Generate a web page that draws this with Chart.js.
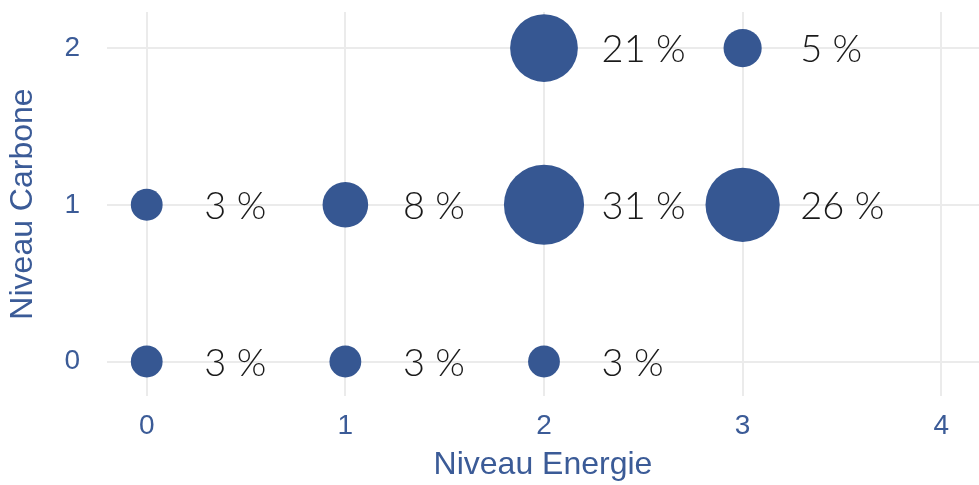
<!DOCTYPE html>
<html>
<head>
<meta charset="utf-8">
<script src="https://cdn.jsdelivr.net/npm/chart.js@4"></script>
<style>
  html, body { margin: 0; padding: 0; background: #fff; }
  #wrap { width: 979px; height: 485px; }
</style>
</head>
<body>
<div id="wrap"><canvas id="chart"></canvas></div>
<script>
// Niveau Energie / Niveau Carbone / share of cases
const energie = [0, 0, 1, 1, 2, 2, 2, 3, 3];
const carbone = [0, 1, 0, 1, 0, 1, 2, 1, 2];
const share = [3, 3, 3, 8, 3, 31, 21, 26, 5];
const xTicks = [0, 1, 2, 3, 4];
const yTicks = [0, 1, 2];

const blue = '#365792';
const axisBlue = '#3b5b97';

const points = energie.map((e, i) => ({
  x: e,
  y: carbone[i],
  r: 5 + 6.3 * Math.sqrt(share[i]),
  v: share[i]
}));

// draw the "xx %" text next to each bubble
const labelPlugin = {
  id: 'bubbleLabels',
  afterDatasetsDraw(chart) {
    const c = chart.ctx;
    const xs = chart.scales.x;
    const unit = xs.getPixelForValue(1) - xs.getPixelForValue(0);
    c.save();
    c.font = '300 38px Lato';
    c.fillStyle = '#1a1a1a';
    c.textAlign = 'left';
    c.textBaseline = 'middle';
    chart.getDatasetMeta(0).data.forEach((el, i) => {
      c.fillText(share[i] + ' %', el.x + 0.29 * unit, el.y + 2);
    });
    c.restore();
  }
};

new Chart(document.getElementById('chart'), {
  type: 'bubble',
  data: {
    datasets: [{
      data: points,
      backgroundColor: blue,
      borderColor: blue,
      borderWidth: 0
    }]
  },
  options: {
    responsive: true,
    maintainAspectRatio: false,
    animation: false,
    layout: { autoPadding: false, padding: { top: 12, right: 0, left: 0, bottom: 0 } },
    plugins: {
      legend: { display: false },
      tooltip: { enabled: false }
    },
    scales: {
      x: {
        type: 'linear',
        min: -0.2,
        max: 4.19,
        border: { display: false },
        grid: { color: '#ebebeb', lineWidth: 2, drawTicks: false },
        afterBuildTicks: s => { s.ticks = xTicks.map(v => ({ value: v })); },
        afterFit: s => { s.height = 89; s.paddingLeft = 0; s.paddingRight = 0; },
        ticks: {
          padding: 13,
          color: axisBlue,
          font: { family: 'Liberation Sans, Arial', size: 28 }
        },
        title: {
          display: true,
          text: 'Niveau Energie',
          color: axisBlue,
          font: { family: 'Liberation Sans, Arial', size: 32 },
          padding: { top: 1, bottom: 1 }
        }
      },
      y: {
        type: 'linear',
        min: -0.22,
        max: 2.23,
        border: { display: false },
        grid: { color: '#ebebeb', lineWidth: 2, drawTicks: false },
        afterBuildTicks: s => { s.ticks = yTicks.map(v => ({ value: v })); },
        afterFit: s => { s.width = 107; s.paddingTop = 0; s.paddingBottom = 0; },
        ticks: {
          padding: 27,
          color: axisBlue,
          font: { family: 'Liberation Sans, Arial', size: 28 }
        },
        title: {
          display: true,
          text: 'Niveau Carbone',
          color: axisBlue,
          font: { family: 'Liberation Sans, Arial', size: 32 },
          padding: 4
        }
      }
    }
  },
  plugins: [labelPlugin]
});
</script>
</body>
</html>
